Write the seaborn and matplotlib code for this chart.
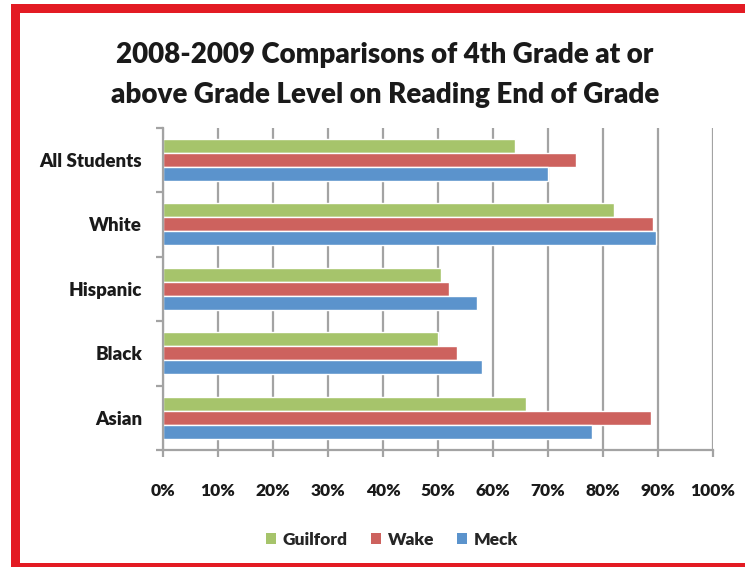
import numpy as np
import pandas as pd
import matplotlib
matplotlib.use("Agg")
import matplotlib.pyplot as plt
from matplotlib.patches import Rectangle, Patch
from matplotlib.ticker import PercentFormatter
import seaborn as sns

groups = ["All Students", "White", "Hispanic", "Black", "Asian"]
districts = ["Guilford", "Wake", "Meck"]
guilford = [64, 82, 50.5, 50, 66]
wake = [75, 89, 52, 53.5, 88.8]
meck = [70, 89.6, 57, 58, 78]
colors = ["#A6C46B", "#CD625E", "#5B93CC"]
x_ticks = [0, 10, 20, 30, 40, 50, 60, 70, 80, 90, 100]
title_lines = ["2008-2009 Comparisons of 4th Grade at or",
               "above Grade Level on Reading End of Grade"]

df = pd.DataFrame({
    "group": groups * 3,
    "district": [d for d in districts for _ in groups],
    "value": guilford + wake + meck,
})

sns.set_style("white")
plt.rcParams["font.family"] = ["Lato", "DejaVu Sans"]

W, H = 745, 567
fig = plt.figure(figsize=(W / 100, H / 100), dpi=100)
ax = fig.add_axes([163 / W, 1 - 450 / H, 550 / W, 322.5 / H])

sns.barplot(data=df, x="value", y="group", hue="district", order=groups,
            hue_order=districts, palette=colors, orient="h", width=0.65,
            saturation=1, ax=ax, legend=False)

ax.set_xlim(0, 100)
ax.set_xticks(x_ticks)
ax.xaxis.set_major_formatter(PercentFormatter(decimals=0))
ax.set_xlabel("")
ax.set_ylabel("")
grid_c = "#A3A3A3"
ax.grid(axis="x", color=grid_c, linewidth=1.6)
ax.grid(axis="y", visible=False)
ax.set_axisbelow(True)
for s in ["top", "right"]:
    ax.spines[s].set_visible(False)
for s in ["left", "bottom"]:
    ax.spines[s].set_color(grid_c)
    ax.spines[s].set_linewidth(1.6)

ax.tick_params(axis="x", length=5, width=1.6, color=grid_c, pad=19,
               labelsize=12.5, labelcolor="#1a1a1a", direction="out", bottom=True)
for lbl in ax.get_xticklabels():
    lbl.set_fontweight("heavy")
ax.tick_params(axis="y", which="major", length=0, pad=15, labelsize=13.5,
               labelcolor="#1a1a1a")
for lbl in ax.get_yticklabels():
    lbl.set_fontweight("heavy")
ax.set_yticks(np.arange(-0.5, len(groups), 1), minor=True)
ax.tick_params(axis="y", which="minor", length=5, width=1.6, color=grid_c,
               left=True, direction="out")

handles = [Patch(facecolor=c, edgecolor="none") for c in colors]
fig.legend(handles, districts, loc="center", bbox_to_anchor=(392 / W, 1 - 540 / H),
           ncol=3, frameon=False, handlelength=0.6, handleheight=0.6,
           handletextpad=0.4, columnspacing=1.3,
           prop={"weight": "heavy", "size": 12.5})

fig.text(385 / W, 1 - 55 / H, title_lines[0], ha="center", va="center",
         fontsize=20, fontweight="heavy", color="#1a1a1a")
fig.text(385 / W, 1 - 95 / H, title_lines[1], ha="center", va="center",
         fontsize=20, fontweight="heavy", color="#1a1a1a")

red = "#E31B23"
fig.add_artist(Rectangle((11 / W, 0), 9 / W, 1 - 4 / H, transform=fig.transFigure,
                         facecolor=red, edgecolor="none"))
fig.add_artist(Rectangle((11 / W, 1 - 13 / H), 1 - 11 / W, 9 / H,
                         transform=fig.transFigure, facecolor=red, edgecolor="none"))
fig.add_artist(Rectangle((11 / W, 0), 1 - 11 / W, 4 / H,
                         transform=fig.transFigure, facecolor=red, edgecolor="none"))

fig.savefig("out.png", dpi=100)
